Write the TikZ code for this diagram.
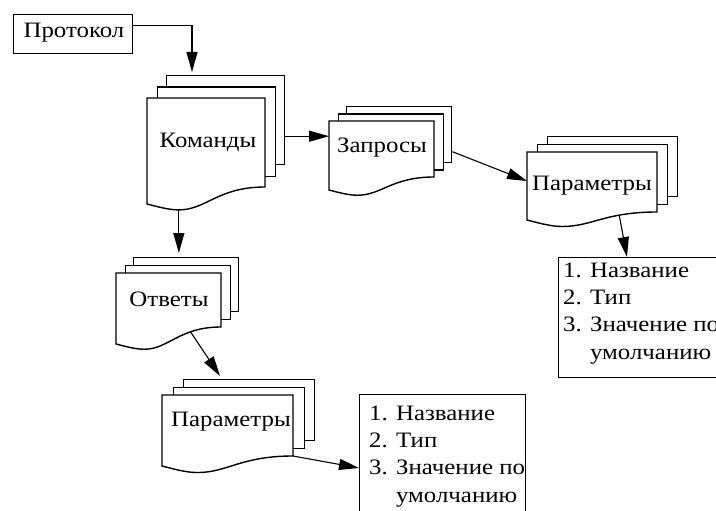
\documentclass[tikz,border=0pt]{standalone}
\usepackage{fontspec}
\setmainfont{Liberation Serif}[FakeStretch=1.13]
\usetikzlibrary{arrows.meta}

\tikzset{
  sheet/.style={draw, fill=white, line width=1.4pt, line join=miter},
  lbl/.style={font=\fontsize{22}{26}\selectfont, inner sep=0pt, anchor=base},
  item/.style={lbl, anchor=base west},
  arr/.style={line width=1.1pt, -{Triangle[length=20pt,width=11pt]}},
  boxnode/.style={draw, line width=1.1pt, inner sep=0pt, anchor=north west},
}

% A stack of three documents.
% #1 name, #2 left x, #3 top y of the front sheet, #4 width, #5 height of the
% right edge, #6 #7 offset of each sheet behind, #8 drop of the wavy bottom.
\newcommand\docstack[8]{%
  \node[sheet, minimum width=#4pt, minimum height=#5pt, inner sep=0pt,
        anchor=north west] (#1-back) at ({#2+2*#6},{#3-2*#7}) {};
  \node[sheet, minimum width=#4pt, minimum height=#5pt, inner sep=0pt,
        anchor=north west] (#1-mid) at ({#2+#6},{#3-#7}) {};
  \coordinate (#1-fl) at (#2,#3);
  \coordinate (#1-br) at ({#2+#4},{#3+#5});
  \draw[sheet] (#1-fl) -- ({#2+#4},#3) -- (#1-br)
    .. controls ({#2+0.6*#4},{#3+#5}) and ({#2+0.5*#4},{#3+#5+#8+0.05*#4})
    .. coordinate[pos=0.3] (#1-wv)
       ({#2+0.27*#4},{#3+#5+#8+0.05*#4}) coordinate (#1-min)
    .. controls ({#2+0.18*#4},{#3+#5+#8+0.05*#4}) and ({#2+0.08*#4},{#3+#5+#8+0.02*#4})
    .. ({#2},{#3+#5+#8}) -- cycle;
}

\begin{document}
\begin{tikzpicture}[x=1pt,y=-1pt]
\useasboundingbox (0,0) rectangle (716,511);
\clip (0,0) rectangle (716,511);

% title box
\node[boxnode, minimum width=119pt, minimum height=39pt] (prot) at (13,14) {};
\node[lbl] (protlbl) at (74,37.5) {Протокол};

% document stacks
\docstack{cmd}{147}{98}{118}{89}{9.5}{11.5}{17}
\node[lbl] (cmdlbl) at (208,147) {Команды};

\docstack{zap}{329}{121}{105}{56}{8.5}{7.5}{13}
\node[lbl] (zaplbl) at (382,153) {Запросы};

\docstack{parR}{527}{152}{130}{60}{10}{8}{8}
\node[lbl] (parRlbl) at (592,190) {Параметры};

\docstack{otv}{116}{273}{105}{54}{8.5}{8}{17}
\node[lbl] (otvlbl) at (169,306) {Ответы};

\docstack{parL}{162}{395}{131}{61}{10.5}{8}{10}
\node[lbl] (parLlbl) at (231,426) {Параметры};

% attribute lists
\node[boxnode, minimum width=190pt, minimum height=120pt] (lstR) at (558,257) {};
\node[item] (lstR1) at (563,277) {1. Название};
\node[item] (lstR2) at (563,304.3) {2. Тип};
\node[item] (lstR3) at (563,331.6) {3. Значение по};
\node[item] (lstR4) at (563,359) {\phantom{3. }умолчанию};

\node[boxnode, minimum width=166pt, minimum height=150pt] (lstL) at (359,394) {};
\node[item] (lstL1) at (369,420) {1. Название};
\node[item] (lstL2) at (369,447.3) {2. Тип};
\node[item] (lstL3) at (369,474.6) {3. Значение по};
\node[item] (lstL4) at (369,502) {\phantom{3. }умолчанию};

% connectors
\draw[arr, shorten >=3pt] ([yshift=8.5pt]prot.east) -| ([xshift=26pt]cmd-back.north west);
\draw[arr] ([yshift=-16pt]cmd-back.east) -- ([yshift=-16pt]cmd-back.east -| zap-fl);
\draw[arr, shorten >=4pt] (cmd-min) -- (cmd-min |- otv-back.north);
\draw[arr] ([yshift=-17pt]zap-back.east) -- ([yshift=-29pt]parR-fl);
\draw[arr] (parR-wv) -- ([xshift=69pt]lstR.north west);
\draw[arr] (otv-wv) -- ([xshift=37pt,yshift=3pt]parL-back.north west);
\draw[arr] (parL-br) -- ([yshift=-74pt]lstL.north west);
\end{tikzpicture}
\end{document}
